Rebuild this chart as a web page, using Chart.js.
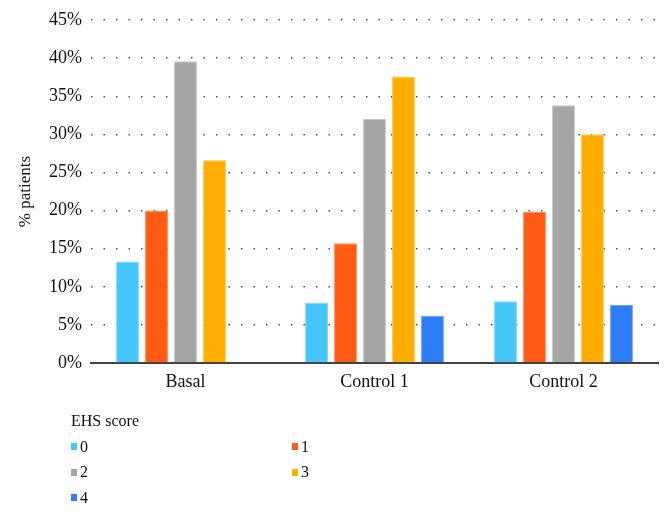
<!DOCTYPE html>
<html>
<head>
<meta charset="utf-8">
<script src="https://cdn.jsdelivr.net/npm/chart.js@4/dist/chart.umd.min.js"></script>
<style>
  html, body { margin: 0; padding: 0; background: #fff; }
  #wrap { position: relative; width: 672px; height: 516px; }
  #legend { position: absolute; left: 71px; top: 408px; font-family: "Liberation Serif", serif; font-size: 16px; color: #111; }
  #legend .title { height: 26px; line-height: 26px; }
  #legend .grid { display: grid; grid-template-columns: 221px 120px; grid-auto-rows: 25.5px; }
  #legend .item { display: flex; align-items: center; }
  #legend .box { width: 6px; height: 7px; margin-right: 3px; }
</style>
</head>
<body>
<div id="wrap">
  <canvas id="c" width="672" height="516"></canvas>
  <div id="legend"><div class="title">EHS score</div><div class="grid" id="lgrid"></div></div>
</div>
<script>
const categories = ["Basal", "Control 1", "Control 2"];
const seriesNames = ["0", "1", "2", "3", "4"];
const score0 = [13.3, 7.9, 8.1];
const score1 = [20.0, 15.7, 19.8];
const score2 = [39.6, 32.0, 33.8];
const score3 = [26.6, 37.6, 30.0];
const score4 = [null, 6.2, 7.6];
const yTicks = [0, 5, 10, 15, 20, 25, 30, 35, 40, 45];
const colors = ["#45C6FA", "#FF5B14", "#A5A5A5", "#FFAD00", "#2E7CF6"];
const borderColors = ["#7DD8FC", "#FF8A55", "#C6C6C6", "#FFC84D", "#6AA2F8"];

const seriesValues = [score0, score1, score2, score3, score4];
const FONT = "'Liberation Serif', serif";

const datasets = seriesNames.map((n, i) => ({
  label: n,
  data: seriesValues[i],
  backgroundColor: colors[i],
  borderColor: borderColors[i],
  borderWidth: 1,
  categoryPercentage: 0.767,
  barPercentage: 0.79
}));

new Chart(document.getElementById('c'), {
  type: 'bar',
  data: { labels: categories, datasets },
  options: {
    responsive: false,
    animation: false,
    layout: { padding: { top: 20, right: 14, left: 0, bottom: 0 } },
    plugins: { legend: { display: false }, tooltip: { enabled: false } },
    scales: {
      x: {
        grid: { display: false, drawTicks: false },
        border: { display: true, color: '#404040', width: 2 },
        ticks: { color: '#111', font: { family: FONT, size: 18 }, padding: 8 },
        afterFit: (s) => { s.height = 153; }
      },
      y: {
        min: 0, max: 45,
        afterBuildTicks: (s) => { s.ticks = yTicks.map(v => ({ value: v })); },
        grid: { color: '#444', lineWidth: 1.4, drawTicks: false },
        border: { display: false, dash: [1.4, 11.1] },
        ticks: { color: '#111', font: { family: FONT, size: 18 }, padding: 9, callback: (v) => v + '%' },
        title: { display: true, text: '% patients', color: '#111', font: { family: FONT, size: 17 }, padding: { top: 15, bottom: 0 } },
        afterFit: (s) => { s.width = 91; }
      }
    }
  }
});

const lgrid = document.getElementById('lgrid');
seriesNames.forEach((n, i) => {
  const d = document.createElement('div');
  d.className = 'item';
  d.innerHTML = '<span class="box" style="background:' + colors[i] + '"></span><span>' + n + '</span>';
  lgrid.appendChild(d);
});
</script>
</body>
</html>
